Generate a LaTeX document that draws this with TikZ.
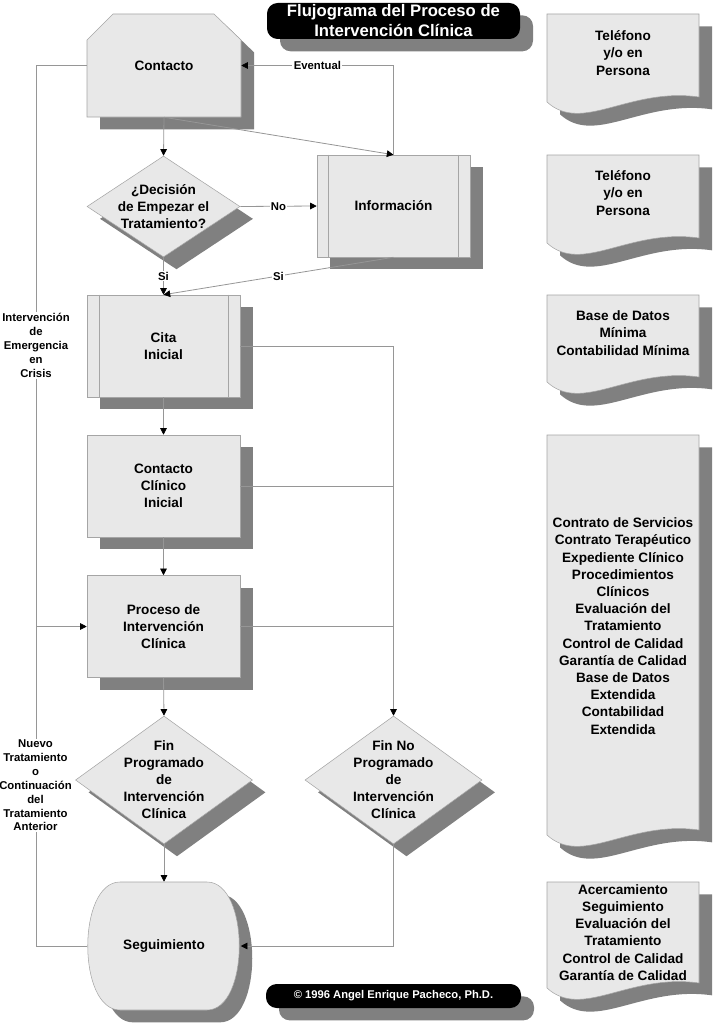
\documentclass[tikz,border=0pt]{standalone}
\usepackage{fontspec}
\setmainfont{Liberation Sans}
\usetikzlibrary{shapes.geometric}
\usetikzlibrary{shadows}
\usetikzlibrary{arrows.meta}

\definecolor{boxfill}{RGB}{232,232,232}
\definecolor{boxline}{RGB}{165,165,165}
\definecolor{shadowgray}{RGB}{128,128,128}
\definecolor{wiregray}{RGB}{150,150,150}

\newcommand{\nodefont}{\fontsize{10.2}{12.75}\selectfont\bfseries}
\newcommand{\docfont}{\fontsize{10.2}{12.9}\selectfont\bfseries}
\newcommand{\lblfont}{\fontsize{8.5}{10.4}\selectfont\bfseries}
\newcommand{\documento}[4]{\draw[draw=boxline, fill=boxfill, sombra] (#1,#2) -- (#3,#2) -- (#3,#4-5) .. controls (#3-70,#4-15) and (#1+35,#4+32) .. (#1,#4) -- cycle;}

\begin{document}
\begin{tikzpicture}[x=0.75pt,y=-0.75pt,
  sombra/.style={drop shadow={shadow xshift=9.75pt,shadow yshift=-9.25pt,fill=shadowgray,opacity=1}},
  caja/.style={draw=boxline, fill=boxfill, sombra, minimum width=114.75pt, minimum height=76.5pt, inner sep=0pt, font=\nodefont, align=center},
  rombo/.style={diamond, draw=boxline, fill=boxfill, sombra, inner sep=0pt},
  rombotexto/.style={font=\nodefont, align=center},
  hueco/.style={inner sep=0pt, font=\nodefont, align=center},
  doctexto/.style={font=\docfont, align=center},
  negro/.style={fill=black, text=white, rounded corners=8pt, inner sep=0pt, sombra, align=center},
  wire/.style={draw=wiregray, line width=0.6pt},
  flecha/.style={wire, -{Triangle[length=5pt,width=5pt,color=black]}},
  lbl/.style={font=\lblfont, fill=white, inner sep=1pt, align=center}]
\useasboundingbox (0,0) rectangle (714,1024);

% titulo y autor
\node[negro, minimum width=189.75pt, minimum height=27pt, font=\fontsize{12.5}{15}\selectfont\bfseries] (titulo) at (393.5,21) {Flujograma del Proceso de\\Intervención Clínica};
\node[negro, minimum width=191.25pt, minimum height=18pt, font=\fontsize{8.4}{10}\selectfont\bfseries] (autor) at (393.5,996) {© 1996 Angel Enrique Pacheco, Ph.D.};

% columna central
\draw[draw=boxline, fill=boxfill, sombra] (87,40) -- (113,14) -- (214,14) -- (241,40) -- (241,117) -- (87,117) -- cycle;
\node[hueco, minimum width=115.5pt, minimum height=77.25pt] (contacto) at (164,65.5) {Contacto};

\node[rombo, minimum width=114.75pt, minimum height=75.75pt, label={[rombotexto]center:¿Decisión\\de Empezar el\\Tratamiento?}] (decision) at (163.5,206.5) {};
\node[caja] (info) at (393.5,206) {Información};
\node[caja] (cita) at (163.5,346) {Cita\\Inicial};
\node[caja] (clinico) at (163.5,486) {Contacto\\Clínico\\Inicial};
\node[caja] (proceso) at (163.5,626.5) {Proceso de\\Intervención\\Clínica};

\draw[boxline] ([xshift=9pt]info.north west) -- ([xshift=9pt]info.south west);
\draw[boxline] ([xshift=-9pt]info.north east) -- ([xshift=-9pt]info.south east);
\draw[boxline] ([xshift=9.75pt]cita.north west) -- ([xshift=9.75pt]cita.south west);
\draw[boxline] ([xshift=-9pt]cita.north east) -- ([xshift=-9pt]cita.south east);

\node[rombo, minimum width=132.75pt, minimum height=96pt, label={[rombotexto]center:Fin\\Programado\\de\\Intervención\\Clínica}] (finprog) at (164,780) {};
\node[rombo, minimum width=132.75pt, minimum height=96pt, label={[rombotexto]center:Fin No\\Programado\\de\\Intervención\\Clínica}] (finno) at (393.5,780) {};

\draw[draw=boxline, fill=boxfill, sombra] (120,882) -- (207,882) .. controls (250,882) and (250,1010) .. (207,1010) -- (120,1010) .. controls (77,1010) and (77,882) .. (120,882) -- cycle;
\node[hueco, minimum width=114.75pt, minimum height=96pt] (seguim) at (164,946) {Seguimiento};

% documentos de la derecha
\documento{547}{14}{699}{102}
\documento{547}{155}{699}{243}
\documento{547}{295}{699}{382}
\documento{547}{435}{699}{835}
\documento{547}{882}{699}{988}
\node[doctexto] (tel1) at (623,53) {Teléfono\\y/o en\\Persona};
\node[doctexto] (tel2) at (623,193) {Teléfono\\y/o en\\Persona};
\node[doctexto] (base) at (623,333) {Base de Datos\\Mínima\\Contabilidad Mínima};
\node[doctexto] (contrato) at (623,626) {Contrato de Servicios\\Contrato Terapéutico\\Expediente Clínico\\Procedimientos\\Clínicos\\Evaluación del\\Tratamiento\\Control de Calidad\\Garantía de Calidad\\Base de Datos\\Extendida\\Contabilidad\\Extendida};
\node[doctexto] (acerca) at (623,932.5) {Acercamiento\\Seguimiento\\Evaluación del\\Tratamiento\\Control de Calidad\\Garantía de Calidad};

% conectores
\coordinate (codo) at (36,626.5);
\draw[flecha] (contacto.south) -- (decision.north);
\draw[flecha] (contacto.south) -- (info.north);
\draw[flecha] (info.north) |- (contacto.east) node[lbl, pos=0.75] {Eventual};
\draw[flecha] (decision.east) -- (info.west) node[lbl, midway] {No};
\draw[flecha] (decision.south) -- (cita.north) node[lbl, midway] {Si};
\draw[flecha] (info.south) -- (cita.north) node[lbl, midway] {Si};
\draw[flecha] (cita.south) -- (clinico.north);
\draw[flecha] (clinico.south) -- (proceso.north);
\draw[flecha] (proceso.south) -- (finprog.north);
\draw[flecha] (finprog.south) -- (seguim.north);
\draw[flecha] (cita.east) -| (finno.north);
\draw[wire] (clinico.east) -- (clinico.east -| finno.north);
\draw[wire] (proceso.east) -- (proceso.east -| finno.north);
\draw[flecha] (finno.south) |- (seguim.east);
\draw[flecha] (contacto.west) -| (codo) -- (proceso.west);
\draw[wire] (seguim.west) -| (codo);
\node[lbl] (emergencia) at (36,345.5) {Intervención\\de\\Emergencia\\en\\Crisis};
\node[lbl] (nuevo) at (35.5,785.5) {Nuevo\\Tratamiento\\o\\Continuación\\del\\Tratamiento\\Anterior};

\end{tikzpicture}
\end{document}
